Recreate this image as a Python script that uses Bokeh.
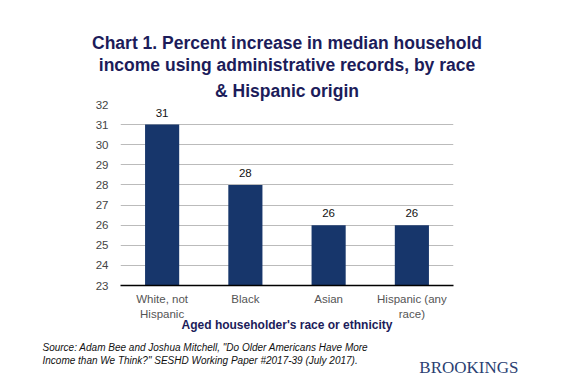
from bokeh.plotting import figure
from bokeh.models import ColumnDataSource, Range1d, LabelSet, Title, LinearAxis, FixedTicker
from bokeh.core.properties import value
from bokeh.embed import file_html
from bokeh.resources import INLINE

categories = ["White, not Hispanic", "Black", "Asian", "Hispanic (any race)"]
tick_line1 = ["White, not", "Black", "Asian", "Hispanic (any"]
tick_line2 = ["Hispanic", "", "", "race)"]
values = [31, 28, 26, 26]
y_ticks = [23, 24, 25, 26, 27, 28, 29, 30, 31, 32]

W, H = 574, 388
xpos = list(range(len(categories)))
src = ColumnDataSource(dict(x=xpos, cat=categories, val=values, lbl=[str(v) for v in values]))

p = figure(width=W, height=H, x_range=Range1d(-0.5, len(categories) - 0.5), y_range=(23, 32),
           output_backend="svg", toolbar_location=None, x_axis_type=None,
           min_border_left=120, min_border_right=121, min_border_top=104, min_border_bottom=103)
p.outline_line_color = None
p.background_fill_color = "white"
p.border_fill_color = "white"

p.vbar(x="x", top="val", bottom=23, width=0.41, source=src,
       fill_color="#17366b", line_color=None)

p.add_layout(LabelSet(x="x", y="val", text="lbl", source=src, y_offset=8,
                      text_align="center", text_baseline="bottom",
                      text_font_size=value("11.5px"), text_color=value("#111111"),
                      text_font=value("Liberation Sans")))

p.yaxis.ticker = y_ticks
p.yaxis.axis_line_color = None
p.yaxis.major_tick_line_color = None
p.yaxis.minor_tick_line_color = None
p.yaxis.major_tick_out = 0
p.yaxis.major_label_text_font = "Liberation Sans"
p.yaxis.major_label_text_font_size = "11.5px"
p.yaxis.major_label_text_color = "#444444"
p.yaxis.major_label_standoff = 12


def make_xaxis(labels, **kw):
    return LinearAxis(ticker=FixedTicker(ticks=xpos),
                      major_label_overrides={i: s for i, s in zip(xpos, labels)},
                      major_tick_line_color=None, minor_tick_line_color=None,
                      major_tick_out=0, major_tick_in=0,
                      major_label_text_font="Liberation Sans",
                      major_label_text_font_size="11.5px",
                      major_label_text_color="#555555", **kw)


ax1 = make_xaxis(tick_line1, axis_line_color="#000000", axis_line_width=1.5,
                 major_label_standoff=7)
ax2 = make_xaxis(tick_line2, axis_line_color=None, major_label_standoff=0,
                 axis_label="Aged householder's race or ethnicity",
                 axis_label_standoff=-5,
                 axis_label_text_font="Liberation Sans",
                 axis_label_text_font_style="bold",
                 axis_label_text_font_size="12px",
                 axis_label_text_color="#1c1c5a")
p.add_layout(ax1, "below")
p.add_layout(ax2, "below")

p.xgrid.grid_line_color = None
p.ygrid.grid_line_color = "#bbbbbb"
p.ygrid.grid_line_width = 1

title_lines = ["Chart 1. Percent increase in median household",
               "income using administrative records, by race",
               "& Hispanic origin"]
for i, t in enumerate(reversed(title_lines)):
    p.add_layout(Title(text=t, align="center", standoff=(8 if i == 0 else 0),
                       text_font="Liberation Sans", text_font_style="bold",
                       text_font_size="17.5px", text_color="#1c1c5a"), "above")

src_lines = ["Source: Adam Bee and Joshua Mitchell, \"Do Older Americans Have More",
             "Income than We Think?\" SESHD Working Paper #2017-39 (July 2017)."]
for i, t in enumerate(src_lines):
    p.add_layout(Title(text=t, align="left", offset=-78, standoff=(-10 if i else 10),
                       text_font="Liberation Sans", text_font_style="italic",
                       text_font_size="10px", text_color="#111111"), "below")

p.add_layout(Title(text="BROOKINGS", align="right", offset=-65, standoff=-9,
                   text_font="Liberation Serif", text_font_style="normal",
                   text_font_size="17px", text_color="#2b3f73"), "below")

open("out.html", "w").write(file_html(p, INLINE))
